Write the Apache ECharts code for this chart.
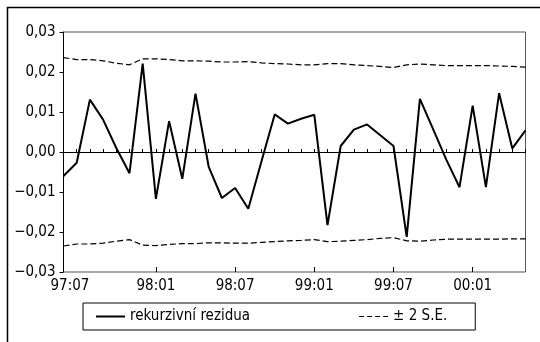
<!DOCTYPE html>
<html>
<head>
<meta charset="utf-8">
<script src="https://cdn.jsdelivr.net/npm/echarts@6/dist/echarts.min.js"></script>
<style>
  html, body { margin: 0; padding: 0; background: #fff; }
  #chart { width: 540px; height: 342px; }
</style>
</head>
<body>
<div id="chart"></div>
<script>
// months on the axis (one point per month)
const months = [
  '97:06', '97:07', '97:08', '97:09', '97:10', '97:11', '97:12',
  '98:01', '98:02', '98:03', '98:04', '98:05', '98:06',
  '98:07', '98:08', '98:09', '98:10', '98:11', '98:12',
  '99:01', '99:02', '99:03', '99:04', '99:05', '99:06',
  '99:07', '99:08', '99:09', '99:10', '99:11', '99:12',
  '00:01', '00:02', '00:03', '00:04', '00:05'
]
// where the labelled (long) ticks are and what they say
const tickIdx = [0, 7, 13, 19, 25, 31]
const tickLabels = ['97:07', '98:01', '98:07', '99:01', '99:07', '00:01']

const residuals = [
  -0.0060, -0.0027, 0.0131, 0.0081, 0.0010, -0.0053, 0.0221, -0.0117, 0.0077, -0.0067,
  0.0146, -0.0037, -0.0115, -0.0090, -0.0142, -0.0023, 0.0094, 0.0071, 0.0083, 0.0093,
  -0.0183, 0.0015, 0.0056, 0.0069, 0.0042, 0.0015, -0.0212, 0.0133, 0.0057, -0.0019,
  -0.0088, 0.0116, -0.0088, 0.0147, 0.0009, 0.0054
]
const upperSE = [
  0.0236, 0.0231, 0.0231, 0.0228, 0.0222, 0.0218, 0.0233, 0.0233, 0.0231, 0.0228,
  0.0228, 0.0227, 0.0225, 0.0225, 0.0226, 0.0223, 0.0221, 0.0220, 0.0218, 0.0218,
  0.0221, 0.0221, 0.0218, 0.0216, 0.0214, 0.0211, 0.0218, 0.0220, 0.0218, 0.0216,
  0.0216, 0.0216, 0.0216, 0.0215, 0.0214, 0.0212
]
const lowerSE = [
  -0.0235, -0.0230, -0.0230, -0.0228, -0.0223, -0.0219, -0.0233, -0.0234, -0.0231, -0.0229,
  -0.0229, -0.0227, -0.0227, -0.0228, -0.0228, -0.0226, -0.0224, -0.0222, -0.0221, -0.0219,
  -0.0224, -0.0223, -0.0221, -0.0219, -0.0216, -0.0214, -0.0222, -0.0223, -0.0220, -0.0218,
  -0.0218, -0.0218, -0.0218, -0.0218, -0.0217, -0.0217
]

const FONT = '"DejaVu Sans Condensed", "Liberation Sans Narrow", sans-serif'
const FS = 15

const chart = echarts.init(document.getElementById('chart'))

const fmtY = v => {
  const r = Math.round(v * 100)
  return (r < 0 ? '\u2212' : '') + (Math.abs(r) / 100).toFixed(2).replace('.', ',')
}

const seDash = { color: '#000', width: 1.2, type: [6, 3] }

chart.setOption({
  animation: false,
  backgroundColor: '#fff',
  textStyle: { fontFamily: FONT },
  graphic: [
    {
      type: 'rect',
      shape: { x: 7.5, y: 7.5, width: 600, height: 400 },
      style: { fill: null, stroke: '#000', lineWidth: 1.5 },
      silent: true
    }
  ],
  grid: { left: 63.5, right: 14.5, top: 32, bottom: 70, show: true, borderColor: '#555', borderWidth: 1 },
  legend: {
    left: 83,
    top: 303,
    padding: [6, 28, 6, 13],
    itemGap: 109,
    itemWidth: 29,
    itemHeight: 2,
    borderColor: '#000',
    borderWidth: 1,
    textStyle: { fontFamily: FONT, fontSize: FS, color: '#000' },
    data: [
      { name: 'rekurzivní rezidua', icon: 'path://M0,0H29V2H0Z' },
      { name: '± 2 S.E.', icon: 'path://M0,0H5V1.2H0Z M8,0H13V1.2H8Z M16,0H21V1.2H16Z M24,0H29V1.2H24Z' }
    ]
  },
  xAxis: [
    {
      type: 'category',
      data: months,
      boundaryGap: false,
      axisLine: { lineStyle: { color: '#000', width: 1 } },
      axisTick: { inside: true, length: 3, interval: () => true, lineStyle: { color: '#000' } },
      axisLabel: {
        interval: i => tickIdx.includes(i),
        formatter: (v, i) => {
          const k = tickIdx.indexOf(i)
          if (k < 0) return ''
          // first label sits a little right of the axis start
          return k === 0 ? '   ' + tickLabels[k] : tickLabels[k]
        },
        fontSize: FS,
        color: '#000',
        margin: 7
      },
      splitLine: { show: false }
    },
    {
      type: 'category',
      data: months,
      boundaryGap: false,
      position: 'bottom',
      axisLine: { show: false },
      axisTick: { inside: true, length: 5, interval: i => tickIdx.includes(i), lineStyle: { color: '#000' } },
      axisLabel: { show: false },
      splitLine: { show: false }
    }
  ],
  yAxis: {
    type: 'value',
    min: -0.03,
    max: 0.03,
    interval: 0.01,
    axisLine: { show: true, lineStyle: { color: '#000', width: 1 } },
    axisTick: { show: true, length: 4, lineStyle: { color: '#000' } },
    axisLabel: { formatter: fmtY, fontSize: FS, color: '#000', margin: 8 },
    splitLine: { show: false }
  },
  series: [
    {
      name: 'rekurzivní rezidua',
      type: 'line',
      data: residuals,
      symbol: 'none',
      lineStyle: { color: '#000', width: 2 },
      itemStyle: { color: '#000' },
      markLine: {
        silent: true,
        symbol: 'none',
        label: { show: false },
        lineStyle: { color: '#000', width: 1, type: 'solid' },
        data: [{ yAxis: 0 }]
      },
      z: 3
    },
    {
      name: '± 2 S.E.',
      type: 'line',
      data: upperSE,
      symbol: 'none',
      lineStyle: seDash,
      itemStyle: { color: '#000' }
    },
    {
      name: '± 2 S.E.',
      type: 'line',
      data: lowerSE,
      symbol: 'none',
      lineStyle: seDash,
      itemStyle: { color: '#000' }
    }
  ]
})
</script>
</body>
</html>
